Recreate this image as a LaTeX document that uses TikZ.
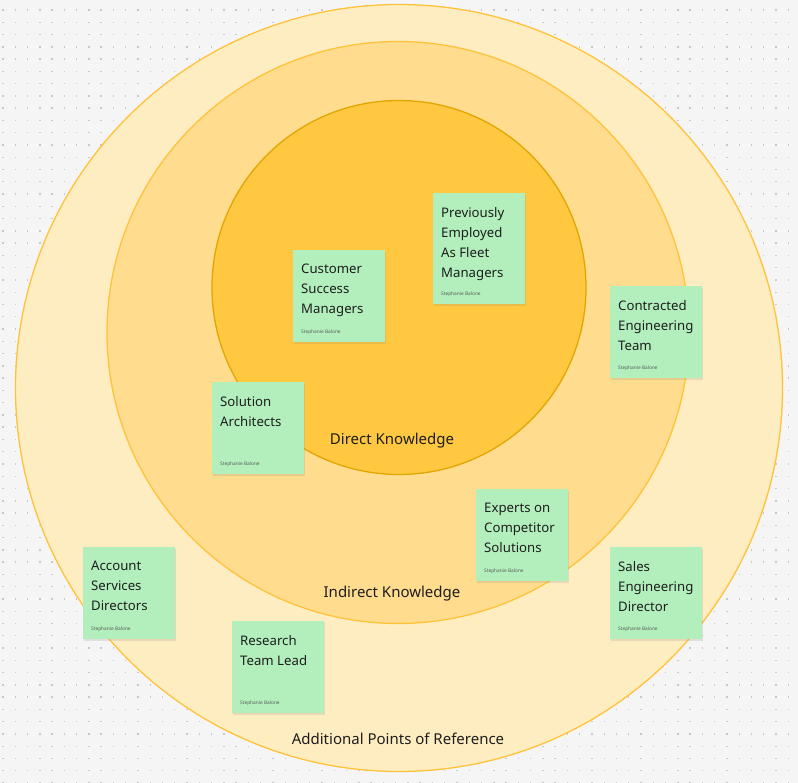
\documentclass[tikz,border=0pt]{standalone}
\usepackage{fontspec}
\setmainfont{Noto Sans}
\usepackage{xcolor}
\usepackage{tikz}
\usetikzlibrary{shadows}
\definecolor{CanvasBg}{HTML}{F5F5F5}
\definecolor{DotGray}{HTML}{C8C8C8}
\definecolor{OuterFill}{HTML}{FFEDC2}
\definecolor{MidFill}{HTML}{FFDC8E}
\definecolor{CoreFill}{HTML}{FFC840}
\definecolor{RingEdge}{HTML}{FFC23A}
\definecolor{CoreEdge}{HTML}{E3A600}
\definecolor{NoteGreen}{HTML}{B3EFBD}
\definecolor{Ink}{HTML}{1E1E1E}
\definecolor{AuthGray}{HTML}{5A5A5A}

\begin{document}
\begin{tikzpicture}[x=1pt,y=-1pt,
  every node/.style={text=Ink},
  ring/.style={line width=1.3pt},
  note/.style={rectangle, anchor=north west, fill=NoteGreen, inner sep=0pt,
               minimum width=92pt, minimum height=92pt,
               drop shadow={shadow xshift=0.6pt, shadow yshift=-1.4pt, opacity=0.18}},
  ntxt/.style={anchor=north west, inner sep=0pt, align=left,
               font=\fontsize{13.2}{20}\selectfont,
               execute at begin node=\rule{0pt}{10pt}},
  nauth/.style={anchor=base west, inner sep=0pt, text=AuthGray,
                font=\fontsize{4.8}{5}\selectfont},
  lbl/.style={inner sep=0pt, font=\fontsize{15}{17}\selectfont},
]

%% ─ Canvas ───────────────────────────────────────────────────────────────────
\useasboundingbox (0,0) rectangle (798,783);
\fill[CanvasBg] (0,0) rectangle (798,783);
\foreach \i in {0,...,64}{
  \foreach \j in {0,...,63}{
    \fill[DotGray] (2.3+12.27*\i, 9.3+12.27*\j) rectangle ++(1.4,1.4);
  }
}

%% ─ Rings ────────────────────────────────────────────────────────────────────
\draw[ring, draw=RingEdge, fill=OuterFill] (399,388)   circle[radius=383.5pt];
\draw[ring, draw=RingEdge, fill=MidFill]   (398,332.5) circle[radius=291pt];
\draw[ring, draw=CoreEdge, fill=CoreFill]  (399,287.5) circle[radius=187pt];

%% ─ Ring labels ──────────────────────────────────────────────────────────────
\node[lbl] (direct)   at (392,441) {Direct Knowledge};
\node[lbl] (indirect) at (392,594) {Indirect Knowledge};
\node[lbl] (extra)    at (398,739) {Additional Points of Reference};

%% ─ Sticky notes ─────────────────────────────────────────────────────────────
\node[note] (csm) at (293,250) {};
\node[ntxt] (csm-t) at ([shift={(8,14)}]csm.north west) {Customer\\Success\\Managers};
\node[nauth] (csm-a) at ([shift={(8,-8.5)}]csm.south west) {Stephanie Balone};

\node[note, minimum height=111pt] (pfm) at (433,193) {};
\node[ntxt] (pfm-t) at ([shift={(8,14)}]pfm.north west) {Previously\\Employed\\As Fleet\\Managers};
\node[nauth] (pfm-a) at ([shift={(8,-8.5)}]pfm.south west) {Stephanie Balone};

\node[note] (cet) at (610,286) {};
\node[ntxt] (cet-t) at ([shift={(8,14)}]cet.north west) {Contracted\\Engineering\\Team};
\node[nauth] (cet-a) at ([shift={(8,-8.5)}]cet.south west) {Stephanie Balone};

\node[note] (sar) at (212,382) {};
\node[ntxt] (sar-t) at ([shift={(8,14)}]sar.north west) {Solution\\Architects};
\node[nauth] (sar-a) at ([shift={(8,-8.5)}]sar.south west) {Stephanie Balone};

\node[note] (ecs) at (476,489) {};
\node[ntxt] (ecs-t) at ([shift={(8,14)}]ecs.north west) {Experts on\\Competitor\\Solutions};
\node[nauth] (ecs-a) at ([shift={(8,-8.5)}]ecs.south west) {Stephanie Balone};

\node[note] (asd) at (83,547) {};
\node[ntxt] (asd-t) at ([shift={(8,14)}]asd.north west) {Account\\Services\\Directors};
\node[nauth] (asd-a) at ([shift={(8,-8.5)}]asd.south west) {Stephanie Balone};

\node[note] (sed) at (610,547) {};
\node[ntxt] (sed-t) at ([shift={(8,14)}]sed.north west) {Sales\\Engineering\\Director};
\node[nauth] (sed-a) at ([shift={(8,-8.5)}]sed.south west) {Stephanie Balone};

\node[note] (rtl) at (232,621) {};
\node[ntxt] (rtl-t) at ([shift={(8,14)}]rtl.north west) {Research\\Team Lead};
\node[nauth] (rtl-a) at ([shift={(8,-8.5)}]rtl.south west) {Stephanie Balone};

\end{tikzpicture}
\end{document}
